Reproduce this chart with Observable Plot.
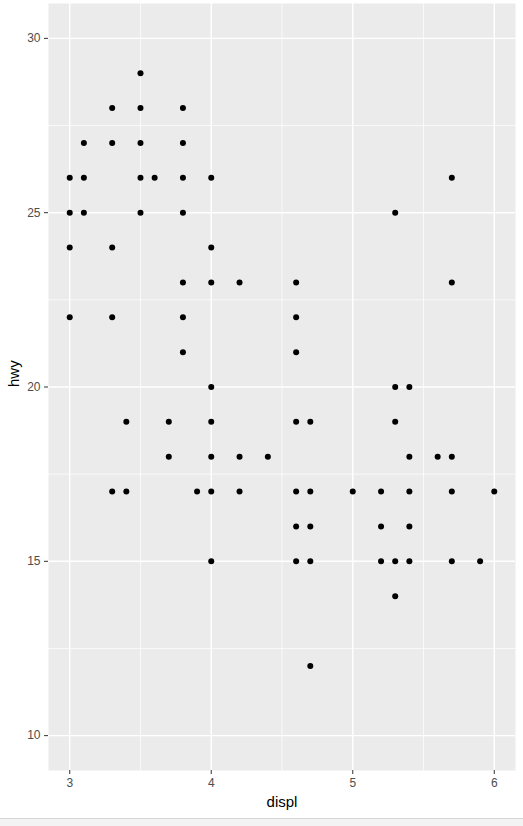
<!DOCTYPE html>
<html>
<head>
<meta charset="utf-8">
<script src="https://cdn.jsdelivr.net/npm/d3@7"></script>
<script src="https://cdn.jsdelivr.net/npm/@observablehq/plot@0.6"></script>
<style>
  body { margin: 0; background: #fff; }
  #chart svg { display: block; }
  #strip { height: 7px; background: #f3f3f3; border-top: 1px solid #d6d6d6; }
</style>
</head>
<body>
<div id="chart"></div>
<div id="strip"></div>
<script>
const displ = [
  3.5,
  3.3, 3.5, 3.8,
  3.1, 3.3, 3.5, 3.8,
  3.0, 3.1, 3.5, 3.6, 3.8, 4.0, 5.7,
  3.0, 3.1, 3.5, 3.8, 5.3,
  3.0, 3.3, 4.0,
  3.8, 4.0, 4.2, 4.6, 5.7,
  3.0, 3.3, 3.8, 4.6,
  3.8, 4.6,
  4.0, 5.3, 5.4,
  3.4, 3.7, 4.0, 4.6, 4.7, 5.3,
  3.7, 4.0, 4.2, 4.4, 5.4, 5.6, 5.7,
  3.3, 3.4, 3.9, 4.0, 4.2, 4.6, 4.7, 5.0, 5.2, 5.4, 5.7, 6.0,
  4.6, 4.7, 5.2, 5.4,
  4.0, 4.6, 4.7, 5.2, 5.3, 5.4, 5.7, 5.9,
  5.3,
  4.7
];
const hwy = [
  29,
  28, 28, 28,
  27, 27, 27, 27,
  26, 26, 26, 26, 26, 26, 26,
  25, 25, 25, 25, 25,
  24, 24, 24,
  23, 23, 23, 23, 23,
  22, 22, 22, 22,
  21, 21,
  20, 20, 20,
  19, 19, 19, 19, 19, 19,
  18, 18, 18, 18, 18, 18, 18,
  17, 17, 17, 17, 17, 17, 17, 17, 17, 17, 17, 17,
  16, 16, 16, 16,
  15, 15, 15, 15, 15, 15, 15, 15,
  14,
  12
];
const xTicks = [3, 4, 5, 6];
const xMinor = [3.5, 4.5, 5.5];
const yTicks = [10, 15, 20, 25, 30];
const yMinor = [12.5, 17.5, 22.5, 27.5];
const xTitle = "displ";
const yTitle = "hwy";

const data = displ.map((d, i) => ({displ: d, hwy: hwy[i]}));

const chart = Plot.plot({
  width: 523,
  height: 818,
  marginLeft: 48,
  marginRight: 8,
  marginTop: 3,
  marginBottom: 48,
  style: {fontFamily: "Liberation Sans, Arial, sans-serif", fontSize: "12px", background: "#fff"},
  x: {domain: [2.85, 6.15]},
  y: {domain: [9, 31]},
  marks: [
    Plot.frame({fill: "#EBEBEB", stroke: "none"}),
    Plot.ruleX(xMinor, {stroke: "white", strokeWidth: 0.7}),
    Plot.ruleY(yMinor, {stroke: "white", strokeWidth: 0.7}),
    Plot.ruleX(xTicks, {stroke: "white", strokeWidth: 1.4}),
    Plot.ruleY(yTicks, {stroke: "white", strokeWidth: 1.4}),
    Plot.axisX({ticks: xTicks, tickSize: 4, tickPadding: 4, fontSize: 12, stroke: "#333", fill: "#4D4D4D", label: null, tickFormat: d => String(d)}),
    Plot.axisY({ticks: yTicks, tickSize: 4, tickPadding: 4, fontSize: 12, stroke: "#333", fill: "#4D4D4D", label: null, tickFormat: d => String(d)}),
    Plot.dot(data, {x: "displ", y: "hwy", r: 3, fill: "black", stroke: "none"}),
    Plot.text([xTitle], {text: d => d, frameAnchor: "bottom", dy: 36, fontSize: 15, fill: "black"}),
    Plot.text([yTitle], {text: d => d, frameAnchor: "left", dx: -34, rotate: -90, fontSize: 15, fill: "black"})
  ]
});
document.getElementById("chart").appendChild(chart);
</script>
</body>
</html>
